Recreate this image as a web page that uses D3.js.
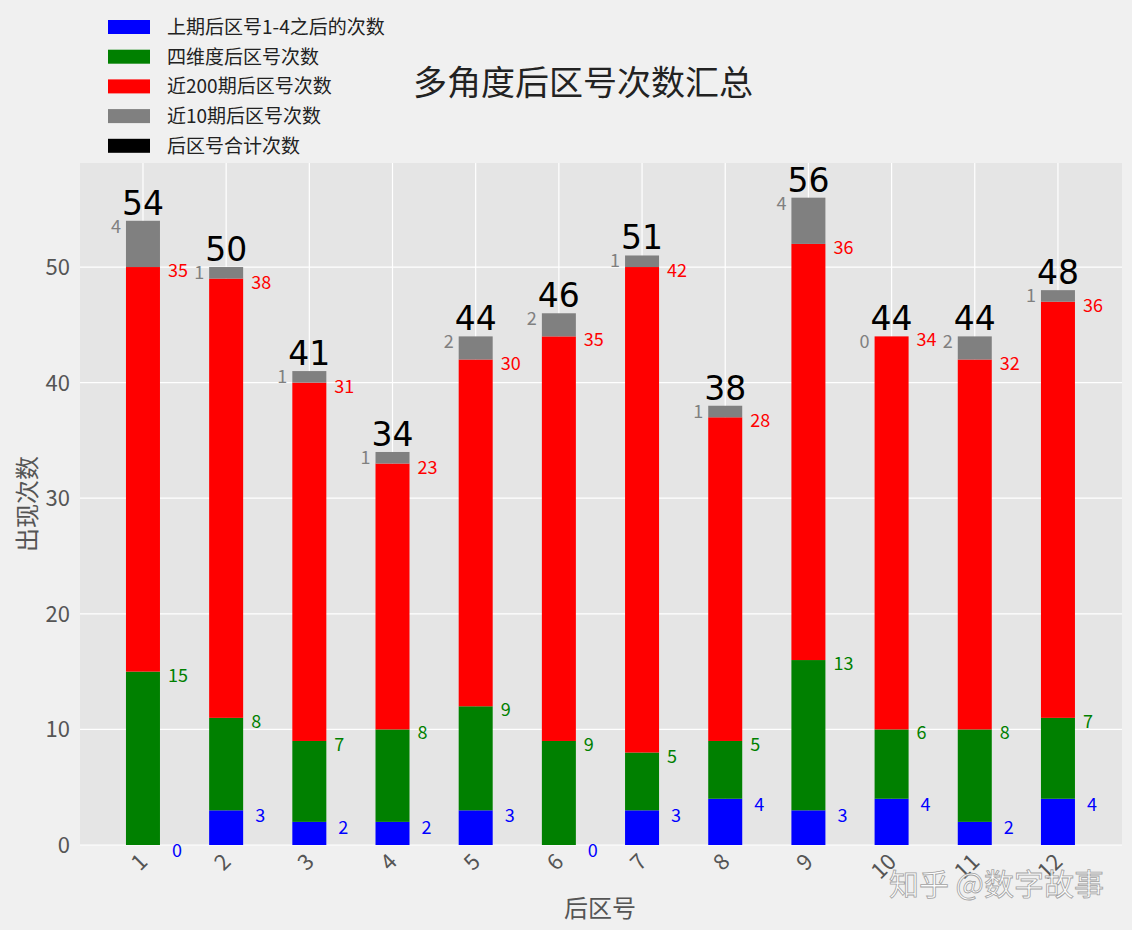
<!DOCTYPE html>
<html><head><meta charset="utf-8">
<script src="https://cdn.jsdelivr.net/npm/d3@7"></script>
<style>body{margin:0;background:#f0f0f0;font-family:"Noto Sans CJK SC",sans-serif}</style>
</head><body><svg id="c" width="1132" height="930"></svg>
<script>
const categories=["1","2","3","4","5","6","7","8","9","10","11","12"];
const blueVals=[0,3,2,2,3,0,3,4,3,4,2,4];
const greenVals=[15,8,7,8,9,9,5,5,13,6,8,7];
const redVals=[35,38,31,23,30,35,42,28,36,34,32,36];
const grayVals=[4,1,1,1,2,2,1,1,4,0,2,1];
const totals=[54,50,41,34,44,46,51,38,56,44,44,48];
const yTicks=[0,10,20,30,40,50];
const legendLabels=["上期后区号1-4之后的次数","四维度后区号次数","近200期后区号次数","近10期后区号次数","后区号合计次数"];
const legendColors=["blue","green","red","gray","black"];

const svg=d3.select("#c");
const L=80,R=1122,T=163,B=845;
const x=d3.scaleLinear().domain([0.243,12.77]).range([L,R]);
const y=d3.scaleLinear().domain([0,59]).range([B,T]);
const bw=34;
svg.append("rect").attr("x",L).attr("y",T).attr("width",R-L).attr("height",B-T).attr("fill","#e5e5e5");
const g=svg.append("g");
yTicks.forEach(t=>g.append("line").attr("x1",L).attr("x2",R).attr("y1",y(t)).attr("y2",y(t)).attr("stroke","#fff").attr("stroke-width",1.2));
categories.forEach((c,i)=>g.append("line").attr("x1",x(i+1)).attr("x2",x(i+1)).attr("y1",T).attr("y2",B).attr("stroke","#fff").attr("stroke-width",1.2));
yTicks.forEach(t=>svg.append("text").attr("x",L-10).attr("y",y(t)+8).attr("text-anchor","end").attr("font-size",22).attr("fill","#555").text(t));
categories.forEach((c,i)=>svg.append("text").attr("transform",`translate(${x(i+1)+6},${B+18}) rotate(-45)`).attr("text-anchor","end").attr("font-size",22).attr("fill","#555").text(c));
const series=[blueVals,greenVals,redVals,grayVals];
const cols=["blue","green","red","gray"];
categories.forEach((c,i)=>{
  let base=0;
  series.forEach((s,k)=>{
    const v=s[i];
    svg.append("rect").attr("x",x(i+1)-bw/2).attr("width",bw).attr("y",y(base+v)).attr("height",y(base)-y(base+v)).attr("fill",cols[k]);
    const top=base+v;
    if(k<3){
      svg.append("text").attr("x",x(i+1)+bw/2+(k==0?12:8)).attr("y",y(top)+(k==0?12:10)).attr("font-size",18).attr("fill",cols[k]).text(v);
    } else {
      svg.append("text").attr("x",x(i+1)-bw/2-5).attr("y",y(top)+12).attr("text-anchor","end").attr("font-size",18).attr("fill","gray").text(v);
    }
    base=top;
  });
  svg.append("text").attr("x",x(i+1)).attr("y",y(totals[i])-6).attr("text-anchor","middle").attr("font-size",33).attr("font-family","DejaVu Sans").attr("fill","#000").text(totals[i]);
});
svg.append("text").attr("x",583).attr("y",95).attr("text-anchor","middle").attr("font-size",34).attr("fill","#222").text("多角度后区号次数汇总");
svg.append("text").attr("x",600).attr("y",917).attr("text-anchor","middle").attr("font-size",24).attr("fill","#555").text("后区号");
svg.append("text").attr("transform","translate(36,504) rotate(-90)").attr("text-anchor","middle").attr("font-size",24).attr("fill","#555").text("出现次数");
legendLabels.forEach((l,i)=>{
  const yy=27+i*29.7;
  svg.append("rect").attr("x",108).attr("y",yy-7).attr("width",42).attr("height",14).attr("fill",legendColors[i]);
  svg.append("text").attr("x",167).attr("y",yy+7).attr("font-size",19).attr("fill","#222").text(l);
});
svg.append("text").attr("x",1104).attr("y",895).attr("text-anchor","end").attr("font-size",30).attr("fill","#fff").attr("stroke","#999").attr("stroke-width",0.8).attr("opacity",0.9).text("知乎 @数字故事");
</script></body></html>
